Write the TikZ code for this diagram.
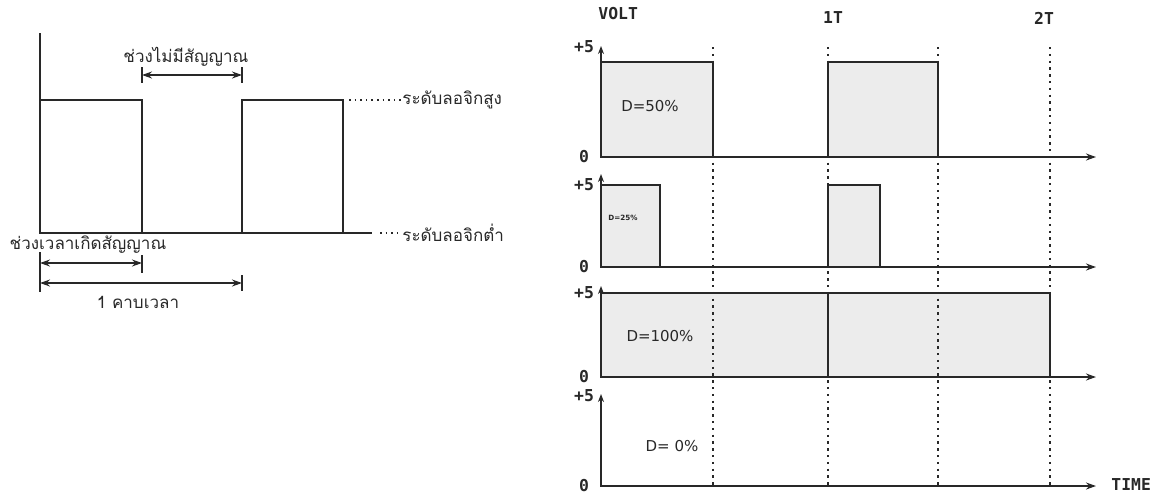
\documentclass[tikz,border=0pt]{standalone}
\usepackage{fontspec}
\usepackage{tikz}
\usetikzlibrary{arrows.meta, positioning}
\newfontfamily\thaifont[Script=Thai]{Loma}
\newfontfamily\pixfont{DejaVu Sans Mono}
\newfontfamily\dfont{DejaVu Sans}
\definecolor{Sig}{RGB}{40, 40, 40}
\definecolor{Shade}{RGB}{236, 236, 236}
\tikzset{
    sig/.style={line width=0.8pt, draw=Sig},
    pulse/.style={sig, fill=Shade},
    grid/.style={line width=0.9pt, Sig, dash pattern=on 1.2pt off 2.2pt},
    lead/.style={line width=0.6pt, Sig, dash pattern=on 0.8pt off 2pt},
    axis/.style={line width=0.8pt, Sig, {Stealth[length=4pt, width=3pt]}-{Stealth[length=5pt, width=3.5pt]}},
    dim/.style={line width=0.7pt, Sig, {Stealth[length=5pt, width=3.5pt]}-{Stealth[length=5pt, width=3.5pt]}},
    tick/.style={line width=0.7pt, Sig},
    thlab/.style={font=\thaifont\fontsize{8.5}{10}\selectfont, inner sep=0pt, text=Sig},
    axlab/.style={font=\pixfont\bfseries\fontsize{8.2}{9}\selectfont, inner sep=0pt, text=Sig},
    duty/.style={font=\dfont\fontsize{7.5}{8}\selectfont, inner sep=0pt, text=Sig},
}

\begin{document}
\begin{tikzpicture}[x=0.5pt, y=-0.5pt]
    \useasboundingbox (0,0) rectangle (1151,494);

    % left: one period of the signal
    \draw [sig] (40,33) -- (40,233) -- (372,233);
    \draw [sig] (40,100) -- (142,100) -- (142,233);
    \draw [sig] (242,233) -- (242,100) -- (343,100) -- (343,233);

    \node [thlab, anchor=west] (hi) at (402,100) {ระดับลอจิกสูง};
    \node [thlab, anchor=west] (lo) at (402,233) {ระดับลอจิกต่ำ};
    \coordinate (hi0) at (349,100);
    \coordinate (lo0) at (380,233);
    \draw [lead] (hi0) -- (hi.west);
    \draw [lead] (lo0) -- (lo.west);

    \node [thlab] (gap) at (186,57) {ช่วงไม่มีสัญญาณ};
    \node [thlab] (on) at (88,245) {ช่วงเวลาเกิดสัญญาณ};
    \node [thlab] (per) at (138,302) {1 คาบเวลา};

    \coordinate (g1) at (142,75);
    \coordinate (g2) at (242,75);
    \coordinate (o1) at (40,263);
    \coordinate (o2) at (142,263);
    \coordinate (p1) at (40,283);
    \coordinate (p2) at (242,283);
    \draw [tick] (142,67) -- (142,83);
    \draw [tick] (242,67) -- (242,83);
    \draw [tick] (40,252) -- (40,292);
    \draw [tick] (142,255) -- (142,273);
    \draw [tick] (242,275) -- (242,291);
    \draw [dim] (g1) -- (g2);
    \draw [dim] (o1) -- (o2);
    \draw [dim] (p1) -- (p2);

    % right: duty cycle examples
    \draw [pulse] (601,157) -- (601,62) -- (713,62) -- (713,157);
    \draw [pulse] (828,157) -- (828,62) -- (938,62) -- (938,157);
    \draw [pulse] (601,267) -- (601,185) -- (660,185) -- (660,267);
    \draw [pulse] (828,267) -- (828,185) -- (880,185) -- (880,267);
    \draw [pulse] (601,377) -- (601,293) -- (1050,293) -- (1050,377);
    \draw [sig] (828,293) -- (828,377);

    \foreach \x in {713, 828, 938, 1050}
        \draw [grid] (\x,47) -- (\x,488);

    \foreach \i/\b/\t/\a in {1/157/47/46, 2/267/185/174, 3/377/293/286, 4/486/396/394} {
        \coordinate (top\i) at (601,\a);
        \coordinate (org\i) at (601,\b);
        \coordinate (end\i) at (1096,\b);
        \draw [axis] (top\i) -- (org\i) -- (end\i);
        \node [axlab] (five\i) at (584,\t) {+5};
        \node [axlab] (zero\i) at (584,\b) {0};
    }

    \node [axlab, anchor=west] (volt) at (598,14) {VOLT};
    \node [axlab] (t1) at (833,18) {1T};
    \node [axlab] (t2) at (1044,18) {2T};
    \node [axlab, anchor=west] (time) at (1111,485) {TIME};

    \node [duty] (d50) at (650,106) {D=50\%};
    \node [duty, font=\dfont\bfseries\fontsize{3.6}{4}\selectfont] (d25) at (623,218) {D=25\%};
    \node [duty] (d100) at (660,336) {D=100\%};
    \node [duty] (d0) at (672,446) {D= 0\%};
\end{tikzpicture}
\end{document}
